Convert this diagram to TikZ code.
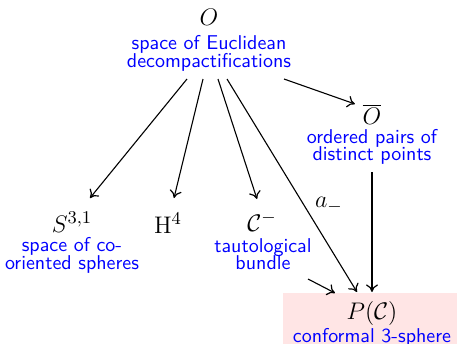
\documentclass[tikz,border=0pt]{standalone}
\usetikzlibrary{arrows.meta}
\newcommand\labfont{\sffamily\fontsize{10}{8.8}\selectfont\lineskiplimit=-6pt\relax}
\begin{document}
\begin{tikzpicture}[x=0.5pt,y=-0.5pt,
  >={Computer Modern Rightarrow[length=3.8pt,width=6pt,line width=0.6pt]},
  obj/.style={inner sep=0pt, font=\fontsize{12.3}{14}\selectfont},
  lab/.style={inner sep=0pt, align=center, text=blue, anchor=north,
              font=\labfont},
  arr/.style={->, line width=0.55pt}]
\useasboundingbox (0,0) rectangle (457,344);
\fill[red!10] (283,293) rectangle (457,344);
% objects
\node[obj] (O)  at (209,17)  {$O$};
\node[lab] (Ol) at (209,35)  {space of Euclidean\\decompactifications};
\node[obj] (Ob) at (372,114) {$\overline{O}$};
\node[lab] (Obl) at (372,128.5) {ordered pairs of\\distinct points};
\node[obj] (S)  at (72,222)  {$S^{3,1}$};
\node[lab] (Sl) at (72,237)  {space of co-\\oriented spheres};
\node[obj] (H)  at (168,223) {$\mathrm{H}^4$};
\node[obj] (C)  at (262,222) {$\mathcal{C}^-$};
\node[lab] (Cl) at (263,238) {tautological\\bundle};
\node[obj] (P)  at (372,313) {$P(\mathcal{C})$};
\node[lab] (Pl) at (372,328) {conformal 3-sphere};
\node[obj] (am) at (329,205) {$a_-$};
% arrows
\draw[arr] ([shift={(-22,62)}]O.center) -- ([shift={(18,-24)}]S.center);
\draw[arr] ([shift={(-6,62)}]O.center)  -- ([shift={(6,-25)}]H.center);
\draw[arr] ([shift={(9,62)}]O.center)   -- ([shift={(-5,-23)}]C.center);
\draw[arr] ([shift={(18,62)}]O.center)  -- ([shift={(-15,-21)}]P.center);
\draw[arr] ([shift={(75,62)}]O.center)  -- ([shift={(-17,-10)}]Ob.center);
\draw[arr] ([shift={(0,58)}]Ob.center)  -- ([shift={(0,-21)}]P.center);
\draw[arr] ([shift={(46,57)}]C.center)  -- ([shift={(-37,-20)}]P.center);
\end{tikzpicture}
\end{document}
